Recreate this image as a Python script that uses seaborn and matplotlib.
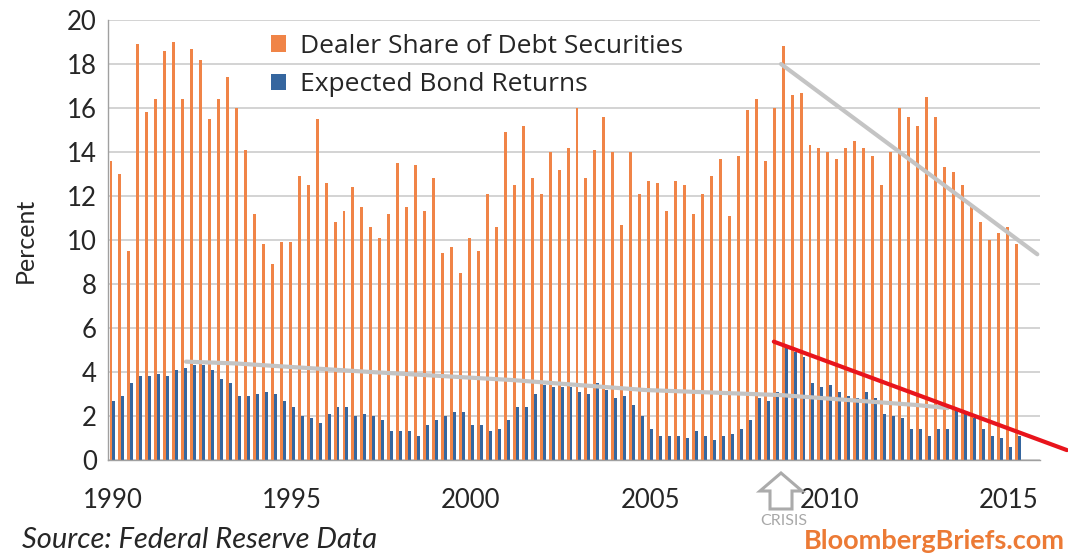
import numpy as np
import pandas as pd
import matplotlib
matplotlib.use("Agg")
import matplotlib.pyplot as plt
import seaborn as sns
from matplotlib.patches import Polygon
from matplotlib.transforms import IdentityTransform

# ---------------- data (quarterly, 1990Q1 - 2015Q2) ----------------
dealer_share = [
    13.6, 13.0, 9.5, 18.9, 15.8, 16.4, 18.6, 19.0, 16.4, 18.7, 18.2, 15.5, 16.4, 17.4, 16.0,
    14.1, 11.2, 9.8, 8.9, 9.9, 9.9, 12.9, 12.5, 15.5, 12.6, 10.8, 11.3, 12.4, 11.5, 10.6,
    10.1, 11.2, 13.5, 11.5, 13.4, 11.3, 12.8, 9.4, 9.7, 8.5, 10.1, 9.5, 12.1, 10.6, 14.9,
    12.5, 15.2, 12.8, 12.1, 14.0, 13.2, 14.2, 16.0, 12.8, 14.1, 15.6, 14.0, 10.7, 14.0, 12.1,
    12.7, 12.6, 11.3, 12.7, 12.5, 11.2, 12.1, 12.9, 13.7, 11.1, 13.8, 15.9, 16.4, 13.6, 16.0,
    18.8, 16.6, 16.7, 14.3, 14.2, 14.0, 13.7, 14.2, 14.5, 14.2, 13.8, 12.5, 14.0, 16.0, 15.6,
    15.2, 16.5, 15.6, 13.3, 13.1, 12.5, 11.6, 10.8, 10.0, 10.3, 10.6, 9.8,
]
bond_returns = [
    2.7, 2.9, 3.5, 3.8, 3.8, 3.9, 3.8, 4.1, 4.2, 4.3, 4.3, 4.1, 3.7, 3.5, 2.9,
    2.9, 3.0, 3.1, 3.0, 2.7, 2.4, 2.0, 1.9, 1.7, 2.1, 2.4, 2.4, 2.0, 2.1, 2.0,
    1.8, 1.3, 1.3, 1.3, 1.1, 1.6, 1.8, 2.0, 2.2, 2.2, 1.6, 1.6, 1.3, 1.4, 1.8,
    2.4, 2.4, 3.0, 3.4, 3.3, 3.3, 3.3, 3.1, 3.0, 3.5, 3.2, 2.8, 2.9, 2.5, 2.0,
    1.4, 1.1, 1.1, 1.1, 1.0, 1.3, 1.1, 0.9, 1.1, 1.2, 1.4, 1.8, 2.8, 2.7, 3.1,
    5.1, 4.9, 4.7, 3.5, 3.3, 3.4, 3.1, 2.9, 2.8, 3.1, 2.8, 2.1, 2.0, 1.9, 1.4,
    1.4, 1.1, 1.4, 1.4, 2.3, 2.2, 1.9, 1.4, 1.1, 1.0, 0.6, 1.1,
]
series_names = ["Dealer Share of Debt Securities", "Expected Bond Returns"]
year_labels = ["1990", "1995", "2000", "2005", "2010", "2015"]
n_slots = 104  # axis runs to end of 2015

# annotation trend lines (category index, percent)
dealer_trend_x = [74.6, 103.2]
dealer_trend_y = [18.0, 9.35]
returns_trend_x = [8.2, 13.7, 28.8, 44.4, 59.5, 74.6, 89.7, 93.2]
returns_trend_y = [4.47, 4.39, 4.0, 3.64, 3.18, 2.95, 2.5, 2.36]
red_trend_x = [73.8, 106.5]
red_trend_y = [5.38, 0.45]

n = len(dealer_share)
quarters = [f"{1990 + i // 4}Q{i % 4 + 1}" for i in range(n)]
df = pd.DataFrame({
    "quarter": quarters * 2,
    "value": dealer_share + bond_returns,
    "series": [series_names[0]] * n + [series_names[1]] * n,
})

ORANGE = "#F08447"
BLUE = "#35669F"
GRID = "#C8C8C8"
TEXT = "#262626"

sns.set_theme(style="white")
plt.rcParams["font.family"] = ["Lato", "DejaVu Sans"]

W, H = 1068, 555
fig = plt.figure(figsize=(W / 100, H / 100), dpi=100)
ax = fig.add_axes([108 / W, 1 - 460 / H, (1040 - 108) / W, 440 / H])

sns.barplot(data=df, x="quarter", y="value", hue="series", order=quarters,
            hue_order=series_names, palette=[ORANGE, BLUE], width=0.66,
            saturation=1, errorbar=None, linewidth=0, ax=ax, zorder=2)

ax.set_xlim(-0.5, n_slots - 0.5)
ax.set_ylim(0, 20)
ax.set_yticks(np.arange(0, 21, 2))
ax.yaxis.grid(True, color=GRID, linewidth=1.1, zorder=0)
ax.set_axisbelow(True)
for s in ["top", "right"]:
    ax.spines[s].set_visible(False)
ax.spines["left"].set_color("#A0A0A0")
ax.spines["bottom"].set_color("#A0A0A0")
ax.spines["left"].set_linewidth(1.0)
ax.spines["bottom"].set_linewidth(1.0)

ax.set_xticks([i * 20 for i in range(len(year_labels))])
ax.set_xticklabels(year_labels)
ax.set_xticks(np.arange(-0.5, n_slots, 4), minor=True)
ax.tick_params(axis="x", which="major", length=0, pad=20, labelsize=18.5, labelcolor=TEXT)
ax.tick_params(axis="x", which="minor", length=5, width=1, color="#A0A0A0", direction="out")
ax.tick_params(axis="y", length=0, pad=8, labelsize=18.5, labelcolor=TEXT)
ax.set_xlabel("")
ax.set_ylabel("Percent", fontsize=18, color=TEXT, labelpad=22)

# legend
leg = ax.legend(loc="upper left", bbox_to_anchor=(0.149, 1.022), frameon=False,
                prop={"family": "Open Sans", "size": 19}, handlelength=0.6,
                handleheight=0.6, handletextpad=0.5, labelspacing=0.5)
for t in leg.get_texts():
    t.set_color(TEXT)

# trend lines
ax.plot(returns_trend_x, returns_trend_y, color="#C4C4C4", linewidth=3, zorder=3,
        solid_capstyle="round")
ax.plot(dealer_trend_x, dealer_trend_y, color="#C4C4C4", linewidth=3, zorder=3,
        solid_capstyle="round")
ax.plot(red_trend_x, red_trend_y, color="#E8141C", linewidth=3, zorder=4,
        clip_on=False)

# crisis arrow (pixel coords, origin bottom-left)
pts_img = [(781, 473), (802, 491), (792, 491), (792, 509), (770, 509), (770, 491), (760, 491)]
pts = [(x, H - y) for x, y in pts_img]
arrow = Polygon(pts, closed=True, fill=False, edgecolor="#ABABAB", linewidth=2.2,
                transform=IdentityTransform())
fig.patches.append(arrow)
fig.text(784 / W, 1 - 521 / H, "CRISIS", ha="center", va="center", fontsize=11.5,
         color="#A8A8A8", family=["Lato", "DejaVu Sans"])

fig.text(22 / W, 1 - 540 / H, "Source: Federal Reserve Data", ha="left", va="center",
         fontsize=21, style="italic", color=TEXT)
fig.text(1065 / W, 1 - 541 / H, "BloombergBriefs.com", ha="right", va="center",
         fontsize=19.5, weight="bold", color="#EC7A35")

fig.savefig("out.png", dpi=100)
